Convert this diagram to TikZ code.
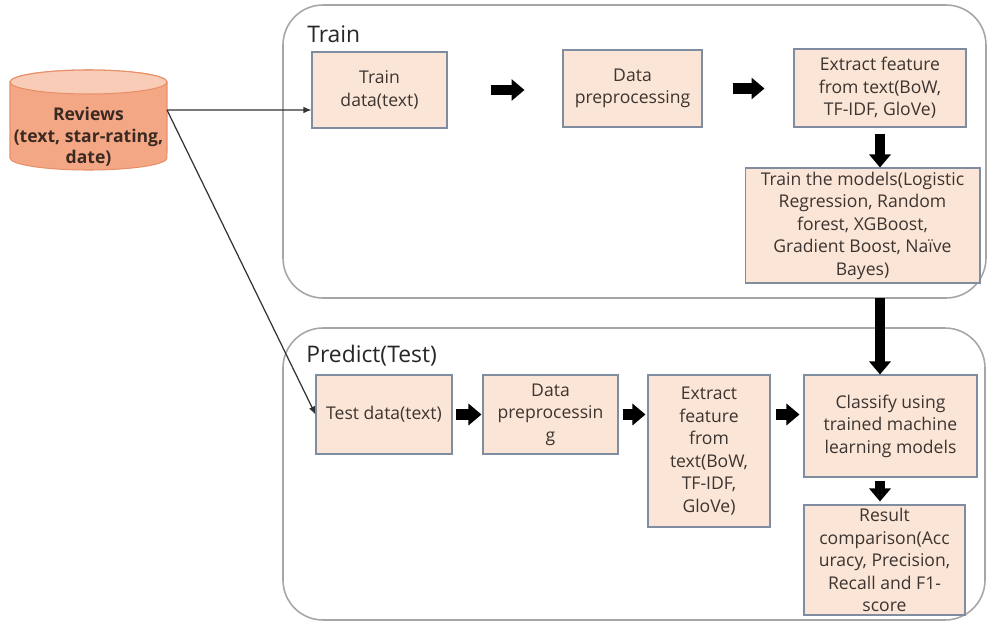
\documentclass[tikz,border=0pt]{standalone}
\usepackage{fontspec}
\setmainfont{Open Sans}
\usetikzlibrary{arrows.meta, positioning}

\definecolor{boxfill}{RGB}{251,229,214}
\definecolor{boxline}{RGB}{128,140,160}
\definecolor{panelline}{RGB}{166,166,166}
\definecolor{cylbody}{RGB}{244,167,133}
\definecolor{cyltop}{RGB}{249,204,184}
\definecolor{cylline}{RGB}{232,143,104}
\definecolor{txt}{RGB}{60,52,48}

\begin{document}
\begin{tikzpicture}[x=0.02cm, y=-0.02cm,
    b/.style={rectangle, draw=boxline, fill=boxfill, line width=0.6pt, inner sep=0pt, align=center, text=txt, font=\fontsize{10}{12.8}\selectfont},
    p/.style={draw=panelline, line width=0.9pt, rounded corners=0.8cm},
    t/.style={anchor=base west, inner sep=0pt, text=black!85, font=\fontsize{13}{15}\selectfont},
    a/.style={-{Triangle[length=2.6mm, width=4.2mm]}, line width=2.1mm, black},
    l/.style={-{Latex[length=1.6mm, width=1.3mm]}, line width=0.7pt, black!80},
]
\useasboundingbox (0,0) rectangle (988,623);

% the two stages
\draw[p] (283,5) rectangle (986,298);
\draw[p] (283,328) rectangle (985,620);
\node[t] (trtitle) at (307,42) {Train};
\node[t] (tstitle) at (306,362) {Predict(Test)};

% review store
\filldraw[fill=cylbody, draw=cylline, line width=0.6pt] (10,82) -- (10,158)
    arc[start angle=180, end angle=360, x radius=1.57cm, y radius=0.24cm] -- (167,82)
    arc[start angle=0, end angle=180, x radius=1.57cm, y radius=0.24cm] -- cycle;
\filldraw[fill=cyltop, draw=cylline, line width=0.6pt] (88.5,82) ellipse[x radius=1.57cm, y radius=0.24cm];
\node[align=center, text={rgb,255:red,59;green,42;blue,34}, font=\bfseries\fontsize{10}{12.2}\selectfont] (reviews) at (88.5,137) {Reviews\\(text, star-rating,\\date)};
\coordinate (revout) at (167,110);

% train row
\node[b, minimum width=2.7cm, minimum height=1.52cm] (trdata) at (379.5,90) {Train\\data(text)};
\node[b, minimum width=2.78cm, minimum height=1.54cm] (trprep) at (632.5,88.5) {Data\\preprocessing};
\node[b, minimum width=3.44cm, minimum height=1.56cm] (trfeat) at (880,88) {Extract feature\\from text(BoW,\\TF-IDF, GloVe)};
\node[b, minimum width=4.7cm, minimum height=2.3cm] (trmodel) at (862.5,225.5) {Train the models(Logistic\\Regression, Random\\forest, XGBoost,\\Gradient Boost, Naïve\\Bayes)};

% predict row
\node[b, minimum width=2.72cm, minimum height=1.58cm] (tsdata) at (384,414.5) {Test data(text)};
\node[b, minimum width=2.7cm, minimum height=1.58cm] (tsprep) at (550.5,414.5) {Data\\preprocessin\\g};
\node[b, minimum width=2.44cm, minimum height=3.04cm] (tsfeat) at (709,451) {Extract\\feature\\from\\text(BoW,\\TF-IDF,\\GloVe)};
\node[b, minimum width=3.46cm, minimum height=2.04cm] (tsclass) at (890.5,426) {Classify using\\trained machine\\learning models};
\node[b, minimum width=3.22cm, minimum height=2.2cm] (tsres) at (884.5,560) {Result\\comparison(Acc\\uracy, Precision,\\Recall and F1-\\score};

% data flow
\draw[l] (revout) -- ([yshift=-0.4cm]trdata.west);
\draw[l] (revout) -- (tsdata.west);

\draw[a, shorten <=0.86cm, shorten >=0.76cm] (trdata.east) -- (trdata.east -| trprep.west);
\draw[a, shorten <=0.6cm, shorten >=0.58cm] (trprep.east) -- (trprep.east -| trfeat.west);
\draw[a, shorten <=0.12cm] (trfeat.south) -- (trfeat.south |- trmodel.north);
\draw[a, shorten <=0.28cm] (trmodel.south -| trfeat) -- (tsclass.north -| trfeat);

\draw[a, shorten <=0.06cm, shorten >=0.02cm] (tsdata.east) -- (tsprep.west);
\draw[a, shorten <=0.08cm, shorten >=0.04cm] (tsprep.east) -- (tsprep.east -| tsfeat.west);
\draw[a, shorten <=0.1cm, shorten >=0.08cm] (tsfeat.east |- tsdata) -- (tsclass.west |- tsdata);
\draw[a, shorten <=0.06cm, shorten >=0.06cm] (tsclass.south -| trfeat) -- (tsres.north -| trfeat);
\end{tikzpicture}
\end{document}
